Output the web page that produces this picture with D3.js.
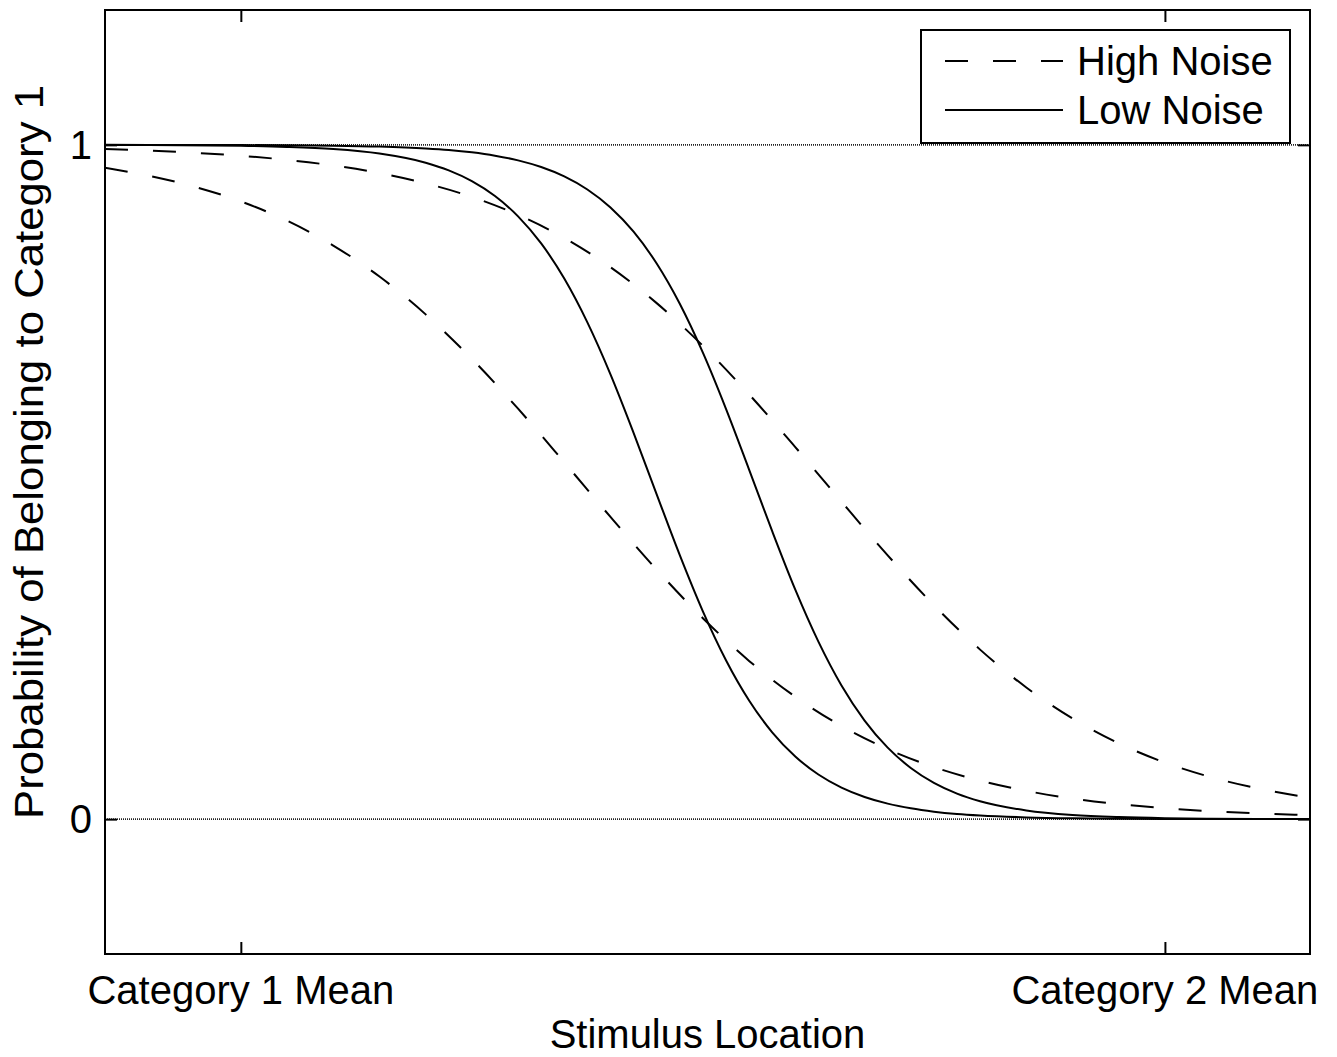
<!DOCTYPE html>
<html>
<head>
<meta charset="utf-8">
<script src="https://cdn.jsdelivr.net/npm/d3@7"></script>
<style>
  html, body { margin: 0; padding: 0; background: #fff; }
  svg { display: block; }
  text { font-family: "Liberation Sans", Arial, sans-serif; fill: #000; }
</style>
</head>
<body>
<svg id="chart" width="1337" height="1057"></svg>
<script>
// ---- Data ----
const xTickValues = [0, 10];
const xTickLabels = ["Category 1 Mean", "Category 2 Mean"];
const yTickValues = [0, 1];
const yTickLabels = ["0", "1"];

// High-noise (dashed) curves
const xHigh = [-1.47, -1.0, -0.5, 0, 0.5, 1.0, 1.5, 2.0, 2.5, 3.0, 3.5, 4.0, 4.5, 5.0, 5.5,
               6.0, 6.5, 7.0, 7.5, 8.0, 8.5, 9.0, 9.5, 10.0, 10.5, 11.0, 11.5, 11.57];
const highNoiseA = [0.966, 0.9543, 0.9378, 0.9161, 0.8875, 0.8507, 0.8047, 0.7486, 0.6826, 0.6087,
                    0.5292, 0.4482, 0.370, 0.298, 0.2347, 0.1815, 0.1381, 0.1038, 0.0772, 0.0571,
                    0.0419, 0.0306, 0.0223, 0.0162, 0.0118, 0.0085, 0.0062, 0.0059];
const highNoiseB = [0.9937, 0.9915, 0.9882, 0.9838, 0.9777, 0.9694, 0.9581, 0.9429, 0.9228, 0.8962,
                    0.8619, 0.8185, 0.7653, 0.702, 0.630, 0.5518, 0.4708, 0.3913, 0.3174, 0.2514,
                    0.1953, 0.1493, 0.1125, 0.0839, 0.0622, 0.0457, 0.0334, 0.032];

// Low-noise (solid) curves
const xLow = [-1.47, -1.0, 0, 0.5, 1.0, 1.5, 2.0, 2.25, 2.5, 2.75, 3.0, 3.25, 3.5, 3.75, 4.0,
              4.25, 4.5, 4.75, 5.0, 5.25, 5.5, 5.75, 6.0, 6.25, 6.5, 6.75, 7.0, 7.25, 7.5,
              7.75, 8.0, 8.5, 9.0, 9.5, 10.0, 10.5, 11.0, 11.5, 11.57];
const lowNoiseA = [0.9998, 0.9997, 0.9986, 0.9970, 0.9938, 0.9871, 0.9735, 0.9621, 0.9462, 0.9241,
                   0.894, 0.8538, 0.8017, 0.7367, 0.6597, 0.573, 0.4816, 0.3915, 0.3082, 0.2357,
                   0.176, 0.1288, 0.0929, 0.0662, 0.0468, 0.0329, 0.0230, 0.0160, 0.0111, 0.0077,
                   0.0054, 0.0026, 0.0012, 0.0006, 0.0003, 0.00013, 0.00007, 0.00003, 0.00003];
const lowNoiseB = [1.0, 0.9999, 0.9997, 0.9994, 0.9988, 0.9974, 0.9946, 0.9923, 0.9889, 0.984,
                   0.977, 0.9671, 0.9532, 0.9338, 0.9071, 0.8712, 0.824, 0.7643, 0.6918, 0.6085,
                   0.5184, 0.427, 0.3403, 0.2633, 0.1983, 0.1462, 0.106, 0.0759, 0.0538, 0.0379,
                   0.0265, 0.0129, 0.0062, 0.0030, 0.0014, 0.0007, 0.0003, 0.00016, 0.00014];

const legendLabels = ["High Noise", "Low Noise"];
const xLabel = "Stimulus Location";
const yLabel = "Probability of Belonging to Category 1";

// ---- Layout ----
const svg = d3.select("#chart");
const L = 105, R = 1310, T = 10, B = 954;
const x = d3.scaleLinear().domain([-1.47, 11.57]).range([L, R]);
const y = d3.scaleLinear().domain([-0.2, 1.2]).range([B, T]);

svg.append("defs").append("clipPath").attr("id", "clip")
  .append("rect").attr("x", L).attr("y", T).attr("width", R - L).attr("height", B - T);

const plot = svg.append("g").attr("clip-path", "url(#clip)");

// dotted reference lines at 0 and 1
plot.selectAll("line.ref").data(yTickValues).enter().append("line")
  .attr("class", "ref")
  .attr("x1", L).attr("x2", R)
  .attr("y1", d => y(d)).attr("y2", d => y(d))
  .attr("stroke", "#222").attr("stroke-width", 1.6)
  .attr("stroke-dasharray", "1,1");

const series = [
  { xs: xHigh, ys: highNoiseA, dash: "23,25" },
  { xs: xHigh, ys: highNoiseB, dash: "23,25" },
  { xs: xLow, ys: lowNoiseA, dash: null },
  { xs: xLow, ys: lowNoiseB, dash: null }
];
const line = d3.line().x(d => x(d[0])).y(d => y(d[1])).curve(d3.curveMonotoneX);
series.forEach(s => {
  plot.append("path")
    .datum(s.xs.map((v, i) => [v, s.ys[i]]))
    .attr("d", line)
    .attr("fill", "none")
    .attr("stroke", "#000")
    .attr("stroke-width", 2)
    .attr("stroke-dasharray", s.dash);
});

// axes (MATLAB-style box with inward ticks)
const tickLen = 12;
const axB = d3.axisBottom(x).tickValues(xTickValues).tickSize(-tickLen).tickFormat("");
const axT = d3.axisTop(x).tickValues(xTickValues).tickSize(-tickLen).tickFormat("");
const axL = d3.axisLeft(y).tickValues(yTickValues).tickSize(-tickLen).tickFormat("");
const axR = d3.axisRight(y).tickValues(yTickValues).tickSize(-tickLen).tickFormat("");
[[axB, `translate(0,${B})`], [axT, `translate(0,${T})`], [axL, `translate(${L},0)`], [axR, `translate(${R},0)`]]
  .forEach(([ax, tr]) => {
    const g = svg.append("g").attr("transform", tr).call(ax);
    g.select(".domain").remove();
    g.selectAll("line").attr("stroke", "#000").attr("stroke-width", 2);
  });

svg.append("rect").attr("x", L).attr("y", T).attr("width", R - L).attr("height", B - T)
  .attr("fill", "none").attr("stroke", "#000").attr("stroke-width", 2);

// tick labels
svg.selectAll("text.xt").data(xTickValues).enter().append("text")
  .attr("class", "xt")
  .attr("x", d => x(d)).attr("y", 1004)
  .attr("text-anchor", "middle").attr("font-size", 40)
  .text((d, i) => xTickLabels[i]);

svg.selectAll("text.yt").data(yTickValues).enter().append("text")
  .attr("class", "yt")
  .attr("x", 92).attr("y", d => y(d) + 14)
  .attr("text-anchor", "end").attr("font-size", 40)
  .text((d, i) => yTickLabels[i]);

// axis titles
svg.append("text").attr("x", (L + R) / 2).attr("y", 1048)
  .attr("text-anchor", "middle").attr("font-size", 40).text(xLabel);
svg.append("text")
  .attr("transform", `translate(43,452) rotate(-90)`)
  .attr("text-anchor", "middle").attr("font-size", 40)
  .attr("textLength", 734).attr("lengthAdjust", "spacingAndGlyphs")
  .text(yLabel);

// legend
const lg = svg.append("g");
lg.append("rect").attr("x", 921).attr("y", 30).attr("width", 369).attr("height", 113)
  .attr("fill", "#fff").attr("stroke", "#000").attr("stroke-width", 2);
const legY = [61, 110];
legendLabels.forEach((lab, i) => {
  lg.append("line").attr("x1", 945).attr("x2", 1063)
    .attr("y1", legY[i]).attr("y2", legY[i])
    .attr("stroke", "#000").attr("stroke-width", 2)
    .attr("stroke-dasharray", i === 0 ? "23,25" : null);
  lg.append("text").attr("x", 1077).attr("y", legY[i] + 14)
    .attr("font-size", 40).text(lab);
});
</script>
</body>
</html>
